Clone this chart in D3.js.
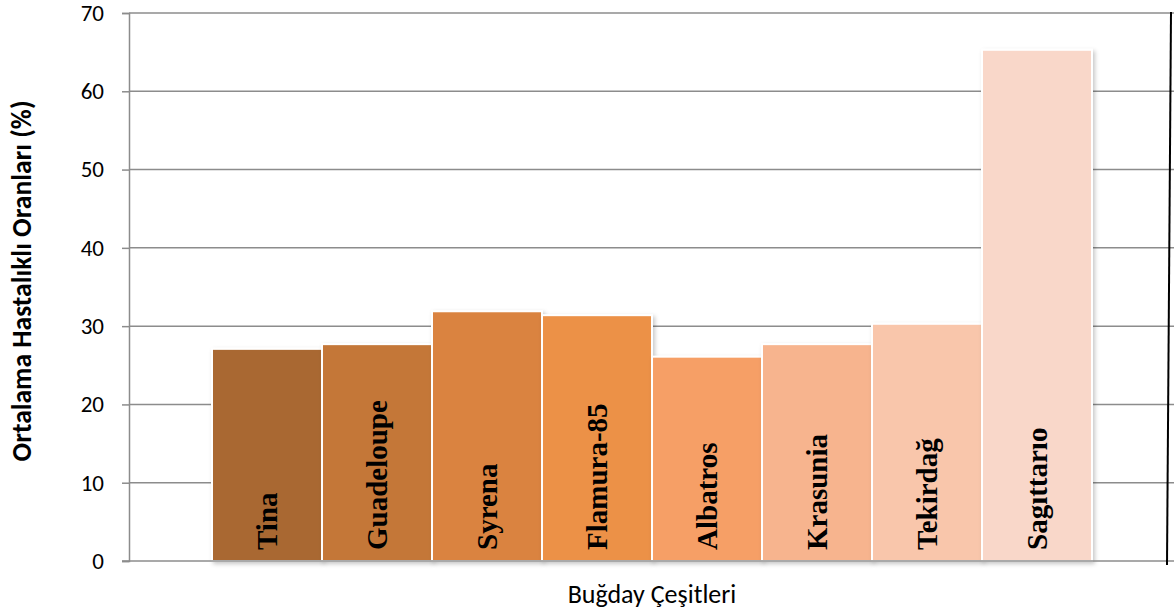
<!DOCTYPE html>
<html>
<head>
<meta charset="utf-8">
<script src="https://cdn.jsdelivr.net/npm/d3@7"></script>
<style>
  body { margin: 0; background: #fff; }
  svg { display: block; }
</style>
</head>
<body>
<div id="chart"></div>
<script>
let varieties = ["Tina", "Guadeloupe", "Syrena", "Flamura-85", "Albatros", "Krasunia", "Tekirdağ", "Sagıttarıo"];
let rates = [27.1, 27.7, 31.9, 31.4, 26.1, 27.7, 30.3, 65.3];
let barColors = ["#A96831", "#C47737", "#DA833F", "#EC9146", "#F69F66", "#F7B48E", "#F9C6AB", "#F9D7C9"];
let yTicks = [0, 10, 20, 30, 40, 50, 60, 70];
let yTitle = "Ortalama Hastalıklı Oranları (%)";
let xTitle = "Buğday Çeşitleri";

let svgWidth = 1174;
let svgHeight = 616;
let axisX = 129;
let sansFont = "Carlito, Lato, 'Open Sans', sans-serif";

let svg = d3.select("#chart").append("svg")
  .attr("width", svgWidth)
  .attr("height", svgHeight);

let defs = svg.append("defs");
let shadow = defs.append("filter").attr("id", "shadow")
  .attr("x", "-10%").attr("y", "-10%").attr("width", "130%").attr("height", "130%");
shadow.append("feDropShadow")
  .attr("dx", 2).attr("dy", 2).attr("stdDeviation", 2)
  .attr("flood-color", "#000").attr("flood-opacity", 0.22);

let yScale = d3.scaleLinear().domain([0, 70]).range([561, 13]);
let xScale = d3.scaleBand().domain(varieties).range([212, 1092]).padding(0);

// gridlines
svg.append("g")
  .selectAll("line")
  .data(yTicks.filter((d) => d > 0))
  .enter()
  .append("line")
  .attr("x1", axisX)
  .attr("x2", svgWidth)
  .attr("y1", (d) => yScale(d))
  .attr("y2", (d) => yScale(d))
  .attr("stroke", "#8c8c8c")
  .attr("stroke-width", 1.5);

// y axis
let yAxis = d3.axisLeft(yScale).tickValues(yTicks).tickSize(7).tickPadding(18);
let yg = svg.append("g")
  .attr("transform", "translate(" + axisX + ",0)")
  .call(yAxis);
yg.select(".domain").attr("stroke", "#8c8c8c").attr("stroke-width", 1.5);
yg.selectAll(".tick line").attr("stroke", "#8c8c8c").attr("stroke-width", 1.5);
yg.selectAll(".tick text")
  .attr("fill", "#000")
  .style("font-family", sansFont)
  .style("font-size", "23px");

// bars
svg.append("g")
  .selectAll("rect")
  .data(rates)
  .enter()
  .append("rect")
  .attr("x", (d, i) => xScale(varieties[i]))
  .attr("y", (d) => yScale(d))
  .attr("width", xScale.bandwidth())
  .attr("height", (d) => yScale(0) - yScale(d))
  .attr("fill", (d, i) => barColors[i])
  .attr("stroke", "#fff")
  .attr("stroke-width", 2)
  .attr("filter", "url(#shadow)");

// x axis line
svg.append("line")
  .attr("x1", axisX - 7)
  .attr("x2", svgWidth)
  .attr("y1", yScale(0))
  .attr("y2", yScale(0))
  .attr("stroke", "#8c8c8c")
  .attr("stroke-width", 1.5);

// bar labels
svg.append("g")
  .selectAll("text")
  .data(varieties)
  .enter()
  .append("text")
  .text((d) => d)
  .attr("transform", (d) => "translate(" + (xScale(d) + xScale.bandwidth() / 2 + 10) + "," + 550 + ") rotate(-90)")
  .style("font-family", "'Liberation Serif', 'Times New Roman', serif")
  .style("font-weight", "bold")
  .style("font-size", "29px")
  .attr("fill", "#000");

// right border line
svg.append("line")
  .attr("x1", 1171).attr("y1", 12)
  .attr("x2", 1167).attr("y2", 565)
  .attr("stroke", "#000")
  .attr("stroke-width", 2);

// titles
svg.append("text")
  .text(yTitle)
  .attr("transform", "translate(31," + 281 + ") rotate(-90)")
  .attr("text-anchor", "middle")
  .style("font-family", sansFont)
  .style("font-weight", "bold")
  .style("font-size", "27.5px");

svg.append("text")
  .text(xTitle)
  .attr("x", 652)
  .attr("y", 603)
  .attr("text-anchor", "middle")
  .style("font-family", sansFont)
  .style("font-size", "26px");
</script>
</body>
</html>
